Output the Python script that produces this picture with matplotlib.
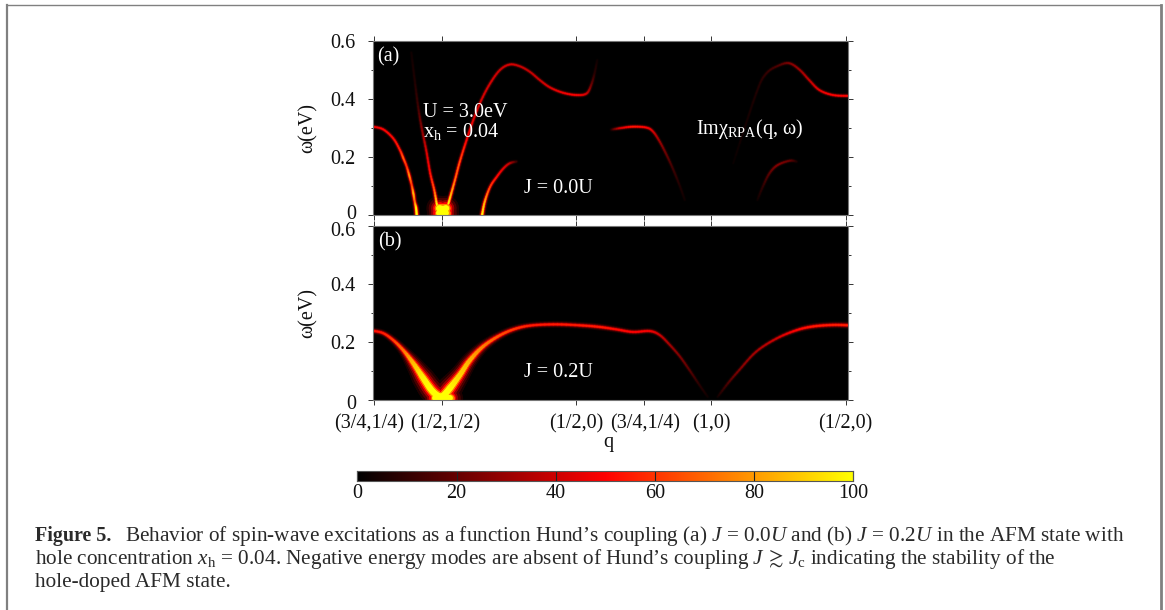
import matplotlib
matplotlib.use("Agg")
import matplotlib.pyplot as plt
import numpy as np
from matplotlib.collections import LineCollection
from matplotlib.colors import LinearSegmentedColormap
from matplotlib.lines import Line2D
from matplotlib.transforms import ScaledTranslation

plt.rcParams['font.family'] = ['Liberation Serif', 'DejaVu Serif']
plt.rcParams['mathtext.fontset'] = 'custom'
plt.rcParams['mathtext.rm'] = 'Liberation Serif'
plt.rcParams['mathtext.it'] = 'Liberation Serif:italic'
plt.rcParams['mathtext.fallback'] = 'stix'

# q positions of the path labels
q_ticks = [0, 1, 3, 4, 5, 7]
q_labels = ['(3/4,1/4)', '(1/2,1/2)', '(1/2,0)', '(3/4,1/4)', '(1,0)', '(1/2,0)']
w_ticks = [0, 0.2, 0.4, 0.6]
w_labels = ['0', '0.2', '0.4', '0.6']
cbar_ticks = [0, 20, 40, 60, 80, 100]

# panel (a) ridges: q, omega, intensity (0-1)
a1_q = [-0.02, 0.13, 0.28, 0.38, 0.43, 0.48, 0.52, 0.555, 0.58, 0.60, 0.62, 0.63]
a1_w = [0.305, 0.296, 0.265, 0.225, 0.197, 0.168, 0.136, 0.104, 0.075, 0.047, 0.025, 0.0]
a1_i = [0.48, 0.50, 0.52, 0.55, 0.70, 0.58, 0.80, 0.62, 0.88, 0.72, 0.98, 1.0]

a2_q = [0.55, 0.60, 0.65, 0.70, 0.77, 0.83, 0.89, 0.93]
a2_w = [0.56, 0.465, 0.375, 0.305, 0.225, 0.145, 0.087, 0.035]
a2_i = [0.03, 0.06, 0.12, 0.25, 0.42, 0.52, 0.68, 1.0]

a3_q = [1.10, 1.197, 1.27, 1.37, 1.47, 1.59, 1.72, 1.865, 2.01, 2.16, 2.31, 2.46, 2.61, 2.80, 3.00, 3.15, 3.22, 3.27, 3.31]
a3_w = [0.04, 0.121, 0.185, 0.259, 0.328, 0.397, 0.454, 0.50, 0.519, 0.513, 0.494, 0.465, 0.44, 0.422, 0.414, 0.419, 0.448, 0.488, 0.534]
a3_i = [1.0, 0.72, 0.66, 0.50, 0.45, 0.42, 0.42, 0.40, 0.42, 0.40, 0.38, 0.40, 0.43, 0.47, 0.50, 0.42, 0.22, 0.08, 0.03]

a4_q = [0.96, 1.02, 1.07]
a4_w = [0.008, 0.008, 0.008]
a4_i = [1.0, 1.0, 1.0]

a5_q = [1.60, 1.64, 1.72, 1.82, 1.92, 2.01, 2.11]
a5_w = [0.0, 0.047, 0.098, 0.133, 0.162, 0.179, 0.185]
a5_i = [1.0, 0.85, 0.62, 0.52, 0.45, 0.38, 0.10]

a6_q = [3.52, 3.65, 3.84, 4.04, 4.14, 4.24, 4.34, 4.44, 4.54, 4.61]
a6_w = [0.295, 0.30, 0.305, 0.302, 0.288, 0.253, 0.208, 0.157, 0.099, 0.053]
a6_i = [0.05, 0.42, 0.55, 0.50, 0.42, 0.30, 0.20, 0.12, 0.06, 0.03]

a7_q = [5.33, 5.67, 5.82, 6.02, 6.17, 6.32, 6.46, 6.61, 6.81, 7.03]
a7_w = [0.179, 0.419, 0.488, 0.517, 0.523, 0.50, 0.465, 0.431, 0.414, 0.411]
a7_i = [0.02, 0.06, 0.10, 0.16, 0.25, 0.31, 0.38, 0.45, 0.50, 0.52]

a8_q = [5.69, 5.77, 5.87, 5.99, 6.17, 6.27]
a8_w = [0.053, 0.099, 0.145, 0.173, 0.188, 0.185]
a8_i = [0.03, 0.09, 0.18, 0.26, 0.20, 0.05]

a9_q = [0.96, 1.02, 1.07]
a9_w = [0.024, 0.022, 0.024]
a9_i = [1.0, 1.0, 1.0]

# panel (b) ridges
b1_q = [-0.02, 0.13, 0.28, 0.43, 0.58, 0.73, 0.85, 0.95, 1.02, 1.12, 1.27, 1.42, 1.62, 1.87, 2.11, 2.36, 2.72, 3.10, 3.35, 3.59, 3.84, 4.09, 4.24, 4.39, 4.54, 4.68, 4.83, 4.95]
b1_w = [0.238, 0.23, 0.206, 0.171, 0.126, 0.074, 0.034, 0.014, 0.014, 0.04, 0.086, 0.137, 0.185, 0.223, 0.246, 0.257, 0.26, 0.256, 0.251, 0.243, 0.234, 0.237, 0.223, 0.189, 0.149, 0.103, 0.051, 0.011]
b1_i = [0.52, 0.55, 0.62, 0.72, 0.86, 0.97, 1.0, 1.0, 1.0, 1.0, 0.92, 0.85, 0.75, 0.66, 0.6, 0.55, 0.55, 0.55, 0.55, 0.52, 0.5, 0.48, 0.4, 0.32, 0.25, 0.18, 0.08, 0.03]

b2_q = [5.10, 5.25, 5.42, 5.67, 5.97, 6.27, 6.52, 6.81, 7.03]
b2_w = [0.011, 0.057, 0.103, 0.166, 0.211, 0.24, 0.253, 0.258, 0.257]
b2_i = [0.03, 0.15, 0.25, 0.33, 0.40, 0.50, 0.55, 0.55, 0.56]

b3_q = [0.90, 1.0, 1.12]
b3_w = [0.008, 0.008, 0.008]
b3_i = [1.0, 1.0, 1.0]

ridges_a = [(a1_q, a1_w, a1_i), (a2_q, a2_w, a2_i), (a3_q, a3_w, a3_i), (a4_q, a4_w, a4_i),
            (a9_q, a9_w, a9_i), (a5_q, a5_w, a5_i), (a6_q, a6_w, a6_i), (a7_q, a7_w, a7_i), (a8_q, a8_w, a8_i)]
ridges_b = [(b1_q, b1_w, b1_i), (b2_q, b2_w, b2_i), (b3_q, b3_w, b3_i)]
# how much each ridge swells when bright
grow_a = [0.4, 0.4, 0.4, 4.5, 4.5, 0.4, 0.4, 0.4, 0.4]
grow_b = [4.5, 4.5, 4.5]

W, H = 1165, 610
cmap = LinearSegmentedColormap.from_list('hot2', ['#000000', '#ff0000', '#ffff00'])


def px_axes(fig, x0, y0, x1, y1):
    return fig.add_axes([x0 / W, 1 - y1 / H, (x1 - x0) / W, (y1 - y0) / H])


def smooth_segments(q, w, i):
    # curve through the read points, cut small so colour can change along it
    pts = np.column_stack([q, w])
    t = np.linspace(0, 1, 7)[:, None]
    segs, vals = [], []
    for k in range(len(pts) - 1):
        p0 = pts[max(k - 1, 0)]
        p1 = pts[k]
        p2 = pts[k + 1]
        p3 = pts[min(k + 2, len(pts) - 1)]
        c1 = p1 + (p2 - p0) / 6
        c2 = p2 - (p3 - p1) / 6
        curve = (1 - t) ** 3 * p1 + 3 * (1 - t) ** 2 * t * c1 + 3 * (1 - t) * t ** 2 * c2 + t ** 3 * p2
        level = i[k] + (i[k + 1] - i[k]) * (t[:-1, 0] + t[1:, 0]) / 2
        segs.append(np.stack([curve[:-1], curve[1:]], axis=1))
        vals.append(level)
    return np.concatenate(segs), np.concatenate(vals)


def draw_ridges(ax, ridges, grows):
    # glow layers, wide and dim first
    for frac, wide in [(0.06, 3.2), (0.15, 2.6), (0.3, 2.0), (0.5, 1.5), (0.75, 1.1), (1.0, 0.75)]:
        for (q, w, i), grow in zip(ridges, grows):
            segs, level = smooth_segments(q, w, i)
            lc = LineCollection(segs, colors=cmap(level * frac), linewidths=wide * (1.2 + grow * level ** 4),
                                capstyle='round', joinstyle='round')
            ax.add_collection(lc)


def setup_panel(ax):
    ax.set_facecolor('black')
    ax.set_xlim(-0.015, 7.03)
    ax.set_ylim(0, 0.6)
    ax.set_xticks(q_ticks)
    ax.set_yticks(w_ticks)
    ax.set_yticklabels(w_labels)
    ax.set_yticks([0.1, 0.3, 0.5], minor=True)
    ax.tick_params(which='major', direction='out', length=3.6, width=0.7, color='#333333',
                   top=True, right=True, labelsize=14.5, labelcolor='#111111')
    ax.tick_params(axis='y', which='major', pad=9)
    ax.tick_params(axis='x', which='major', pad=6.5)
    ax.tick_params(which='minor', direction='out', length=1.8, width=0.7, color='#333333', right=True)
    for s in ax.spines.values():
        s.set_color('#777777')
        s.set_linewidth(0.8)
    ax.set_ylabel('ω(eV)', fontsize=14.5, color='#111111', labelpad=9.5)


def nudge(label, dx, dy):
    # dx, dy in pixels, y up
    label.set_transform(label.get_transform() + ScaledTranslation(dx / 100, dy / 100, fig.dpi_scale_trans))


fig = plt.figure(figsize=(W / 100, H / 100), dpi=100)

# page frame
frame_x = [7, 7, 1160.5, 1160.5]
frame_y = [610, 4.5, 4.5, 610]
fig.add_artist(Line2D([x / W for x in frame_x[:2]], [1 - y / H for y in frame_y[:2]], color='#808080', lw=1.6))
fig.add_artist(Line2D([x / W for x in frame_x[1:3]], [1 - y / H for y in frame_y[1:3]], color='#808080', lw=1.0))
fig.add_artist(Line2D([x / W for x in frame_x[2:]], [1 - y / H for y in frame_y[2:]], color='#808080', lw=2.0))

ax_a = px_axes(fig, 373.3, 41, 847.7, 215.3)
setup_panel(ax_a)
draw_ridges(ax_a, ridges_a, grow_a)
ax_a.set_xticklabels([])
nudge(ax_a.get_yticklabels()[0], 0, 3)

ax_b = px_axes(fig, 373.3, 225.5, 847.7, 400)
setup_panel(ax_b)
draw_ridges(ax_b, ridges_b, grow_b)
ax_b.set_xticklabels(q_labels)
ax_b.set_xlabel('q', fontsize=14.5, color='#111111', labelpad=0)
nudge(ax_b.get_yticklabels()[3], 0, -4)
nudge(ax_b.get_yticklabels()[0], 0, -2)
nudge(ax_b.get_xticklabels()[0], -5, 0)
nudge(ax_b.get_xticklabels()[1], 4, 0)
nudge(ax_b.get_xticklabels()[3], 1, 0)
nudge(ax_b.xaxis.label, -2, 0)

white = dict(color='white', fontsize=14.5)
ax_a.text(0.008, 0.91, '(a)', transform=ax_a.transAxes, ha='left', va='center', **white)
ax_a.text(0.105, 0.587, 'U = 3.0eV', transform=ax_a.transAxes, ha='left', va='center', **white)
ax_a.text(0.105, 0.478, r'x$_{\mathrm{h}}$ = 0.04', transform=ax_a.transAxes, ha='left', va='center', **white)
ax_a.text(0.318, 0.155, 'J = 0.0U', transform=ax_a.transAxes, ha='left', va='center', **white)
ax_a.text(0.68, 0.495, r'Imχ$_{\mathrm{RPA}}$(q, ω)', transform=ax_a.transAxes, ha='left', va='center', **white)
ax_b.text(0.01, 0.905, '(b)', transform=ax_b.transAxes, ha='left', va='center', **white)
ax_b.text(0.318, 0.155, 'J = 0.2U', transform=ax_b.transAxes, ha='left', va='center', **white)

# colour bar
ax_c = px_axes(fig, 357.3, 470.7, 853.3, 480.7)
ax_c.imshow(np.linspace(0, 1, 512)[None, :], aspect='auto', cmap=cmap, extent=[0, 100, 0, 1])
ax_c.set_yticks([])
ax_c.set_xticks(cbar_ticks)
ax_c.tick_params(axis='x', direction='in', length=7, width=0.8, color='#222222', labelsize=14.5, pad=2.5,
                 labelcolor='#111111')
for s in ax_c.spines.values():
    s.set_color('#555555')
    s.set_linewidth(0.8)

# caption
cap = dict(fontsize=15.3, color='#2a2a2a', va='baseline', ha='left')


def cap_text(x, y, s, **kw):
    fig.text(x / W, 1 - y / H, s, **{**cap, **kw})


cap_text(35, 540.5, 'Figure 5.', fontweight='bold', fontsize=14.4)
cap_text(125, 540.5, r'Behavior of spin-wave excitations as a function Hund’s coupling (a) $J$ = 0.0$U$ and (b) $J$ = 0.2$U$ in the AFM state with')
cap_text(35, 564, r'hole concentration $x_{\mathrm{h}}$ = 0.04. Negative energy modes are absent of Hund’s coupling $J\,\gtrsim\,J_{\mathrm{c}}$ indicating the stability of the')
cap_text(35, 587.5, 'hole-doped AFM state.')

fig.savefig('out.png', dpi=100, facecolor='white')
